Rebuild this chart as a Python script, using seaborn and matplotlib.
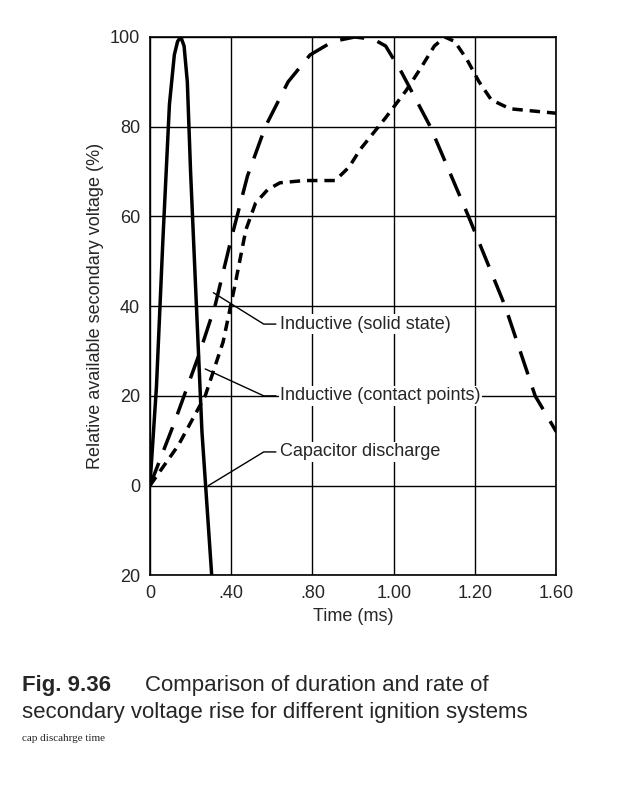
import matplotlib
matplotlib.use("Agg")
import matplotlib.pyplot as plt
import seaborn as sns

# x in grid-interval units (0..5), y in percent
cap_x = [0, 0.08, 0.16, 0.24, 0.3, 0.34, 0.38, 0.42, 0.46, 0.5, 0.56, 0.64, 0.76]
cap_y = [0, 22, 55, 85, 96, 99, 100, 98, 90, 70, 45, 12, -20]

ss_x = [0, 0.3, 0.6, 0.8, 1.0, 1.2, 1.42, 1.7, 1.97, 2.25, 2.52, 2.75, 2.9, 3.1, 3.45, 3.92, 4.37, 4.74, 5.0]
ss_y = [0, 14, 29, 40, 55, 69, 80, 90, 96, 99, 100, 99.5, 98, 92, 80, 60, 40, 20, 12]

cp_x = [0, 0.35, 0.68, 0.9, 1.05, 1.18, 1.3, 1.45, 1.6, 1.9, 2.28, 2.45, 2.59, 2.9, 3.15, 3.33, 3.5, 3.63, 3.75, 3.9, 4.05, 4.2, 4.43, 5.0]
cp_y = [0, 9, 20, 32, 45, 57, 63, 66, 67.5, 68, 68, 71, 75, 82, 88, 93, 98, 100, 99, 95, 90, 86, 84, 83]

x_ticks = [0, 1, 2, 3, 4, 5]
x_labels = ["0", ".40", ".80", "1.00", "1.20", "1.60"]
y_ticks = [-20, 0, 20, 40, 60, 80, 100]
y_labels = ["20", "0", "20", "40", "60", "80", "100"]

sns.set_style("white")
plt.rcParams["font.family"] = ["Liberation Sans", "DejaVu Sans"]

fig = plt.figure(figsize=(6.3, 7.87), dpi=100)
ax = fig.add_axes([0.238, 0.269, 0.645, 0.684])

sns.lineplot(x=cap_x, y=cap_y, ax=ax, color="black", lw=2.5)
sns.lineplot(x=ss_x, y=ss_y, ax=ax, color="black", lw=2.5, linestyle=(0, (7, 4)))
sns.lineplot(x=cp_x, y=cp_y, ax=ax, color="black", lw=2.5, linestyle=(0, (3, 2)))

ax.set_xlim(0, 5)
ax.set_ylim(-20, 100)
ax.set_xticks(x_ticks, x_labels, fontsize=13)
ax.set_yticks(y_ticks, y_labels, fontsize=13)
ax.grid(True, color="black", lw=1)
for s in ax.spines.values():
    s.set_color("black")
    s.set_linewidth(1.2)
ax.set_xlabel("Time (ms)", fontsize=13)
ax.set_ylabel("Relative available secondary voltage (%)", fontsize=13)

# leader lines and labels
for (x0, y0), (x1, y1), txt in [
    ((0.78, 43), (1.6, 36), "Inductive (solid state)"),
    ((0.68, 26), (1.6, 20), "Inductive (contact points)"),
    ((0.72, 0), (1.6, 7.5), "Capacitor discharge"),
]:
    ax.plot([x0, x1 - 0.2, x1 - 0.05], [y0, y1, y1], color="black", lw=1)
    ax.text(x1, y1, txt, fontsize=13, va="center", ha="left",
            bbox=dict(facecolor="white", edgecolor="none", pad=1))

fig.text(0.035, 0.122, "Fig. 9.36", fontsize=16, fontweight="bold")
fig.text(0.23, 0.122, "Comparison of duration and rate of", fontsize=16)
fig.text(0.035, 0.088, "secondary voltage rise for different ignition systems", fontsize=16)
fig.text(0.035, 0.058, "cap discahrge time", fontsize=8, family="Liberation Serif")

fig.savefig("out.png", dpi=100)
